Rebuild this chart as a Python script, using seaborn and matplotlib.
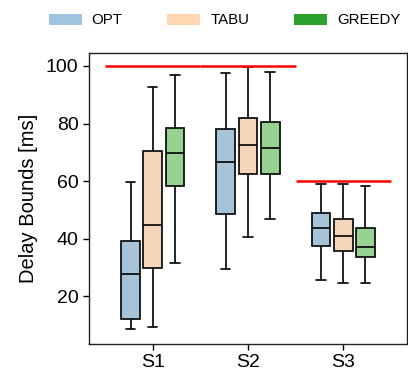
import numpy as np
import pandas as pd
import seaborn as sns
import matplotlib
matplotlib.use("Agg")
import matplotlib.pyplot as plt
from matplotlib.patches import Patch

# --- data (five-number summaries: min, Q1, median, Q3, max)
scenarios = ["S1", "S2", "S3"]
methods = ["OPT", "TABU", "GREEDY"]
opt_stats = [[8.8, 12.3, 27.8, 39.2, 59.8],
             [29.5, 48.6, 66.6, 78.0, 97.6],
             [25.6, 37.5, 43.7, 49.0, 59.1]]
tabu_stats = [[9.3, 29.7, 44.9, 70.6, 92.6],
              [40.7, 62.6, 72.5, 81.9, 99.7],
              [24.7, 35.6, 41.0, 46.9, 59.1]]
greedy_stats = [[31.5, 58.4, 69.6, 78.3, 96.9],
                [46.7, 62.4, 71.5, 80.4, 97.8],
                [24.7, 33.8, 37.3, 43.8, 58.2]]
bounds = [100, 100, 60]
yticks = [20, 40, 60, 80, 100]

box_colors = ["#9fc4df", "#ffd6b0", "#8edc88"]
legend_colors = ["#9fc4df", "#ffd6b0", "#2ca02c"]

rows = []
for m, stats in zip(methods, [opt_stats, tabu_stats, greedy_stats]):
    for s, vals in zip(scenarios, stats):
        for v in vals:
            rows.append({"scenario": s, "method": m, "delay": v})
df = pd.DataFrame(rows)

sns.set_style("ticks")
plt.rcParams["font.family"] = ["Liberation Sans", "DejaVu Sans"]
plt.rcParams["text.color"] = "black"
plt.rcParams["axes.labelcolor"] = "black"
plt.rcParams["xtick.color"] = "black"
plt.rcParams["ytick.color"] = "black"

fig = plt.figure(figsize=(4.08, 3.78), dpi=100)
ax = fig.add_axes([0.218, 0.09, 0.7795, 0.77])

sns.boxplot(data=df, x="scenario", y="delay", hue="method", order=scenarios,
            hue_order=methods, palette=box_colors, whis=(0, 100), width=0.7,
            gap=0.15, linecolor="black", linewidth=1.2, ax=ax, legend=False)

for i, b in enumerate(bounds):
    ax.hlines(b, i - 0.5, i + 0.5, color="red", lw=1.8, zorder=5)

ax.set_xlim(-0.67, 2.67)
ax.set_ylim(3.5, 104.5)
ax.set_yticks(yticks)
ax.set_xlabel("")
ax.set_ylabel("Delay Bounds [ms]", fontsize=14.5, labelpad=6)
ax.tick_params(labelsize=14, length=4, width=1, color="black")
for sp in ax.spines.values():
    sp.set_visible(True)
    sp.set_color("#222222")
    sp.set_linewidth(1)

handles = [Patch(facecolor=c, edgecolor="none", label=m) for c, m in zip(legend_colors, methods)]
fig.legend(handles=handles, loc="upper center", bbox_to_anchor=(0.55, 1.0), ncol=3,
           frameon=False, fontsize=10.8, handlelength=2.2, handleheight=0.8,
           handletextpad=0.65, columnspacing=3.0)

fig.savefig("out.png", dpi=100)
